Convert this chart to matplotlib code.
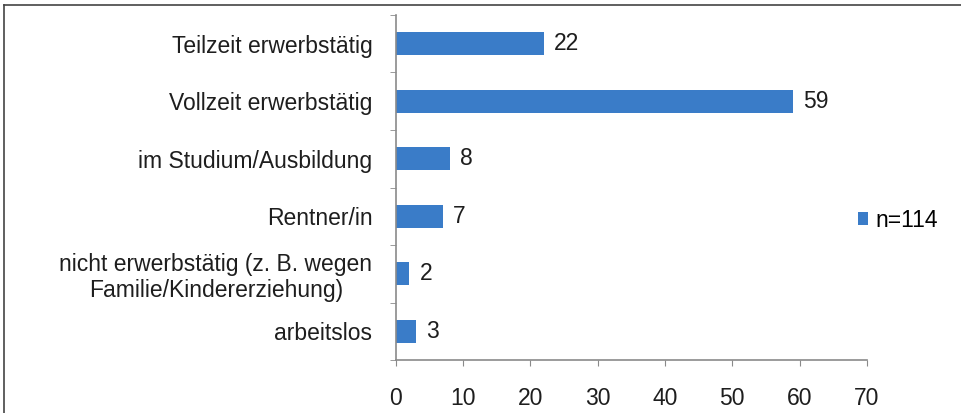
import matplotlib.pyplot as plt
from matplotlib.lines import Line2D

categories = ['Teilzeit erwerbstätig', 'Vollzeit erwerbstätig', 'im Studium/Ausbildung',
              'Rentner/in', 'nicht erwerbstätig (z. B. wegen\nFamilie/Kindererziehung)', 'arbeitslos']
values = [22, 59, 8, 7, 2, 3]
series_name = 'n=114'
xticks = [0, 10, 20, 30, 40, 50, 60, 70]

plt.rcParams['font.family'] = ['Liberation Sans', 'DejaVu Sans']
fs = 16.5
blue = '#3a7cc8'
grey = '#8a8a8a'
txt = '#1e1e1e'

fig = plt.figure(figsize=(9.61, 4.13), dpi=100)
ax = fig.add_axes([0.412, 0.128, 0.490, 0.836])

pos = list(range(len(categories)))
bars = ax.barh(pos, values, height=0.4, color=blue, label=series_name)
ax.set_ylim(len(categories) - 0.5, -0.5)
ax.set_xlim(0, 70)
ax.set_xticks(xticks)
ax.set_xticklabels([str(t) for t in xticks], fontsize=fs, color=txt)
ax.set_yticks(pos)
ax.set_yticklabels(categories, fontsize=fs, color=txt, multialignment='center',
                   linespacing=1.15)
ax.set_yticks([p + 0.5 for p in [-1] + pos], minor=True)
ax.tick_params(axis='y', which='major', length=0, pad=17)
ax.tick_params(axis='y', which='minor', length=4, color=grey, direction='out')
ax.tick_params(axis='x', length=4, color=grey, pad=15)

for s in ['top', 'right']:
    ax.spines[s].set_visible(False)
for s in ['left', 'bottom']:
    ax.spines[s].set_color(grey)
    ax.spines[s].set_linewidth(1.2)

for b, v in zip(bars, values):
    ax.text(v + 1.5, b.get_y() + b.get_height() / 2, str(v), va='center', ha='left',
            fontsize=fs, color=txt)

ax.legend(loc='center left', bbox_to_anchor=(0.962, 0.405), frameon=False, fontsize=fs,
          borderaxespad=0, handlelength=0.45, handleheight=0.45, handletextpad=0.3)

# outer frame (left and top edges)
fig.add_artist(Line2D([0.004, 0.004], [0.0, 0.988], transform=fig.transFigure, color='#444444', lw=1.2))
fig.add_artist(Line2D([0.004, 1.0], [0.988, 0.988], transform=fig.transFigure, color='#444444', lw=1.2))

fig.savefig('out.png', dpi=100)
